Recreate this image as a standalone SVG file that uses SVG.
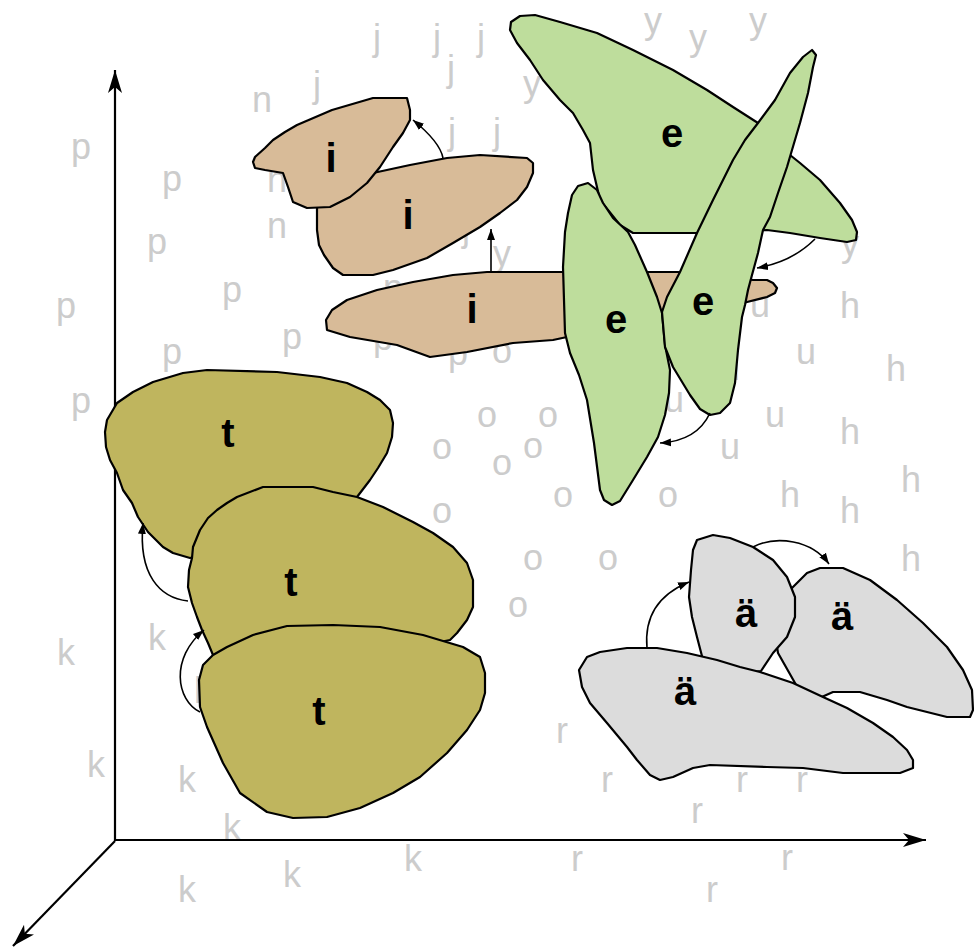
<svg xmlns="http://www.w3.org/2000/svg" width="974" height="949" viewBox="0 0 974 949">
<style>
.bg{fill:#cccccc;font-family:"Liberation Sans",Arial,sans-serif;font-size:36px;text-anchor:middle}
.lb{fill:#000;font-family:"Liberation Sans",Arial,sans-serif;font-size:40px;font-weight:bold;text-anchor:middle}
.sh{stroke:#000;stroke-width:2.2;stroke-linejoin:round}
.tan{fill:#d8bb98}
.grn{fill:#bedd9c}
.olv{fill:#bfb55e}
.gry{fill:#dcdcdc}
.ax{fill:none;stroke:#000;stroke-width:2.2}
.cn{fill:none;stroke:#000;stroke-width:1.6}
</style>
<defs>
<marker id="ah" markerWidth="12" markerHeight="10" refX="11" refY="5" orient="auto" markerUnits="userSpaceOnUse"><path d="M0,1 L11,5 L0,9 z" fill="#000"/></marker>
<marker id="axh" markerWidth="24" markerHeight="16" refX="23" refY="8" orient="auto" markerUnits="userSpaceOnUse"><path d="M0,1 L23,8 L0,15 L6,8 z" fill="#000"/></marker>
</defs>
<rect width="974" height="949" fill="#ffffff"/>
<g id="background-letters">
<text class="bg" x="377" y="50">j</text>
<text class="bg" x="437" y="50">j</text>
<text class="bg" x="481" y="50">j</text>
<text class="bg" x="451" y="81">j</text>
<text class="bg" x="317" y="97">j</text>
<text class="bg" x="452" y="144">j</text>
<text class="bg" x="497" y="144">j</text>
<text class="bg" x="466" y="241">j</text>
<text class="bg" x="262" y="112">n</text>
<text class="bg" x="277" y="192">n</text>
<text class="bg" x="277" y="238">n</text>
<text class="bg" x="653" y="33">y</text>
<text class="bg" x="698" y="50">y</text>
<text class="bg" x="758" y="33">y</text>
<text class="bg" x="532" y="96">y</text>
<text class="bg" x="502" y="266">y</text>
<text class="bg" x="850" y="256">y</text>
<text class="bg" x="81" y="159">p</text>
<text class="bg" x="172" y="191">p</text>
<text class="bg" x="157" y="254">p</text>
<text class="bg" x="232" y="302">p</text>
<text class="bg" x="66" y="318">p</text>
<text class="bg" x="292" y="349">p</text>
<text class="bg" x="172" y="364">p</text>
<text class="bg" x="81" y="413">p</text>
<text class="bg" x="383" y="350">p</text>
<text class="bg" x="458" y="365">p</text>
<text class="bg" x="393" y="300">p</text>
<text class="bg" x="502" y="363">o</text>
<text class="bg" x="487" y="427">o</text>
<text class="bg" x="548" y="427">o</text>
<text class="bg" x="442" y="459">o</text>
<text class="bg" x="533" y="458">o</text>
<text class="bg" x="502" y="475">o</text>
<text class="bg" x="563" y="507">o</text>
<text class="bg" x="668" y="507">o</text>
<text class="bg" x="442" y="523">o</text>
<text class="bg" x="533" y="570">o</text>
<text class="bg" x="608" y="570">o</text>
<text class="bg" x="518" y="617">o</text>
<text class="bg" x="760" y="317">u</text>
<text class="bg" x="806" y="364">u</text>
<text class="bg" x="775" y="427">u</text>
<text class="bg" x="730" y="459">u</text>
<text class="bg" x="730" y="380">u</text>
<text class="bg" x="674" y="412">u</text>
<text class="bg" x="850" y="318">h</text>
<text class="bg" x="896" y="381">h</text>
<text class="bg" x="850" y="444">h</text>
<text class="bg" x="911" y="492">h</text>
<text class="bg" x="790" y="507">h</text>
<text class="bg" x="850" y="523">h</text>
<text class="bg" x="911" y="571">h</text>
<text class="bg" x="66" y="665">k</text>
<text class="bg" x="157" y="650">k</text>
<text class="bg" x="203" y="703">k</text>
<text class="bg" x="96" y="777">k</text>
<text class="bg" x="187" y="792">k</text>
<text class="bg" x="232" y="840">k</text>
<text class="bg" x="187" y="902">k</text>
<text class="bg" x="292" y="887">k</text>
<text class="bg" x="413" y="871">k</text>
<text class="bg" x="562" y="743">r</text>
<text class="bg" x="607" y="792">r</text>
<text class="bg" x="742" y="792">r</text>
<text class="bg" x="802" y="792">r</text>
<text class="bg" x="697" y="823">r</text>
<text class="bg" x="577" y="871">r</text>
<text class="bg" x="787" y="870">r</text>
<text class="bg" x="712" y="902">r</text>
</g>
<g id="axes">
<path class="ax" d="M115,841 L115,70" marker-end="url(#axh)"/>
<path class="ax" d="M114,840 L926,840" marker-end="url(#axh)"/>
<path class="ax" d="M115,841 L13,946" stroke-width="1.6" marker-end="url(#axh)"/>
</g>
<g id="node-i2">
<polygon class="sh tan" points="373,173 410,165 447,158 480,155 527,158 533,163 533,173 527,187 517,200 500,213 480,227 453,243 427,258 393,270 373,275 343,275 333,268 324,255 319,245 317,230 317,208 330,195 350,180"/>
<text class="lb" x="408" y="229">i</text>
</g>
<g id="node-i1">
<polygon class="sh tan" points="255,157 265,148 273,140 285,132 297,125 332,110 373,98 407,98 410,110 410,120 403,133 393,147 380,167 367,183 350,197 330,207 307,208 293,202 288,187 283,173 265,170 255,168 253,162"/>
<text class="lb" x="331" y="172">i</text>
</g>
<g id="node-i3">
<polygon class="sh tan" points="487,272 453,275 413,282 377,290 347,300 332,310 326,320 327,330 350,337 397,345 430,357 467,352 513,343 553,340 567,337 620,330 700,315 747,302 767,297 775,293 777,288 773,283 767,280 753,280 720,276 678,272 562,272"/>
<text class="lb" x="472" y="323">i</text>
</g>
<g id="node-e1">
<polygon class="sh grn" points="511,22 520,16 535,15 560,22 597,33 633,50 673,70 707,90 733,107 758,123 775,140 790,155 800,163 820,180 840,203 852,220 857,232 856,240 847,242 820,238 790,233 767,230 730,232 695,233 633,233 620,225 600,200 593,170 590,143 583,130 573,113 560,100 543,80 530,60 517,43 510,30"/>
<text class="lb" x="672" y="147">e</text>
</g>
<g id="node-e2">
<polygon class="sh grn" points="588,183 578,186 572,195 568,213 565,232 563,267 564,300 565,333 570,353 579,375 587,400 594,443 600,490 604,500 612,505 620,501 633,480 647,457 658,437 665,415 669,393 670,370 665,345 662,313 657,297 647,272 635,245 628,232 613,218 603,203 597,190"/>
<text class="lb" x="616" y="333">e</text>
</g>
<g id="node-e3">
<polygon class="sh grn" points="812,50 816,55 813,67 808,93 800,123 792,150 787,167 778,193 770,217 763,230 758,253 752,275 748,290 745,305 742,317 738,350 735,383 730,403 720,413 710,415 700,409 690,395 673,367 665,347 662,312 667,297 680,272 697,233 713,200 733,160 745,140 758,123 775,100 790,73 803,57"/>
<text class="lb" x="703" y="315">e</text>
</g>
<g id="node-t1">
<polygon class="sh olv" points="107,420 117,403 133,392 153,382 183,373 207,370 277,372 320,377 347,383 367,392 380,400 390,410 393,423 392,437 387,453 378,468 370,480 357,497 300,520 240,545 190,558 173,553 163,547 148,532 138,517 132,503 123,490 117,473 110,460 106,447 105,432"/>
<text class="lb" x="228" y="447">t</text>
</g>
<g id="node-t2">
<polygon class="sh olv" points="192,558 193,547 200,530 208,518 217,510 227,503 237,497 263,487 313,487 333,492 357,497 383,507 413,522 433,533 453,547 467,563 473,580 473,607 467,620 457,633 450,640 400,650 300,655 213,655 208,643 202,630 197,617 192,603 188,587 189,570"/>
<text class="lb" x="291" y="596">t</text>
</g>
<g id="node-t3">
<polygon class="sh olv" points="213,655 227,647 253,635 287,626 333,625 380,627 423,635 463,647 480,657 485,673 485,693 480,710 467,730 447,753 420,777 393,793 360,808 327,817 293,818 267,812 240,793 223,763 207,727 200,707 199,680 203,665"/>
<text class="lb" x="319" y="725">t</text>
</g>
<g id="node-ae2">
<polygon class="sh gry" points="797,583 807,573 820,568 843,568 870,580 897,600 923,623 947,647 963,670 972,690 973,710 970,717 947,717 927,712 907,707 887,700 860,692 833,692 815,700 800,695 795,683 778,653 775,635 782,610 790,590"/>
<text class="lb" x="842" y="630">ä</text>
</g>
<g id="node-ae1">
<polygon class="sh gry" points="693,550 697,540 713,535 730,538 753,547 773,560 787,577 795,597 795,617 787,637 773,653 761,671 730,675 703,660 697,637 692,617 689,597 691,570"/>
<text class="lb" x="746" y="627">ä</text>
</g>
<g id="node-ae3">
<polygon class="sh gry" points="579,670 587,657 600,652 627,648 657,648 687,653 717,660 740,667 760,672 793,683 823,697 847,708 873,723 893,737 907,750 913,760 913,768 900,773 843,773 803,768 767,767 710,765 693,768 673,777 660,780 650,775 637,760 627,747 607,723 590,703 582,687"/>
<text class="lb" x="685" y="705">ä</text>
</g>
<g id="connectors">
<path class="cn" d="M443,158 Q440,142 413,120" marker-end="url(#ah)"/>
<path class="cn" d="M491,272 L491,229" marker-end="url(#ah)"/>
<path class="cn" d="M815,239 Q792,262 757,268" marker-end="url(#ah)"/>
<path class="cn" d="M710,413 Q697,441 660,443" marker-end="url(#ah)"/>
<path class="cn" d="M188,601 C160,598 138,575 143,523" marker-end="url(#ah)"/>
<path class="cn" d="M200,712 C176,700 170,658 204,630" marker-end="url(#ah)"/>
<path class="cn" d="M647,648 C644,615 660,594 689,582" marker-end="url(#ah)"/>
<path class="cn" d="M753,547 C776,535 812,540 829,564" marker-end="url(#ah)"/>
</g>
</svg>
